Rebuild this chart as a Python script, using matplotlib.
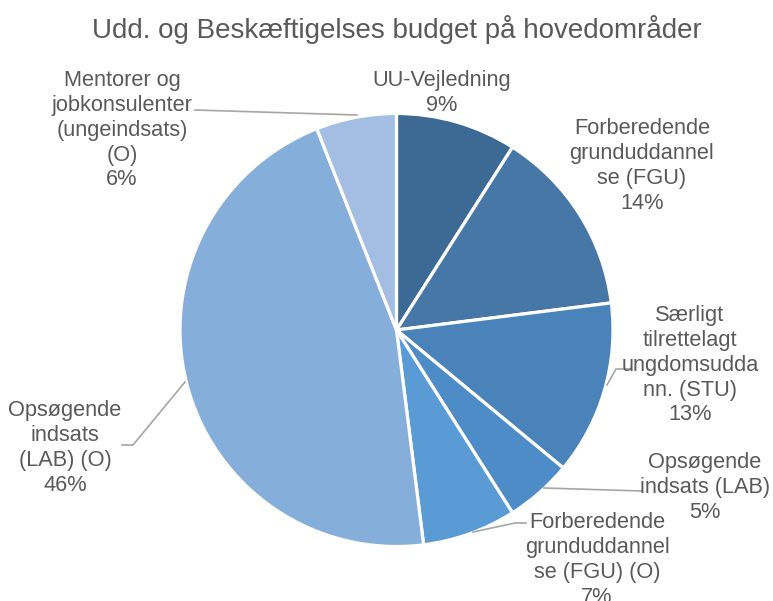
import matplotlib
matplotlib.use("Agg")
import matplotlib.pyplot as plt

# data
labels = [
    "UU-Vejledning",
    "Forberedende\ngrunduddannel\nse (FGU)",
    "Særligt\ntilrettelagt\nungdomsudda\nnn. (STU)",
    "Opsøgende\nindsats (LAB)",
    "Forberedende\ngrunduddannel\nse (FGU) (O)",
    "Opsøgende\nindsats\n(LAB) (O)",
    "Mentorer og\njobkonsulenter\n(ungeindsats)\n(O)",
]
values = [9, 14, 13, 5, 7, 46, 6]
colors = ["#3D6A95", "#4677A6", "#4A83B9", "#4D8CC6", "#5A9BD6", "#85AEDB", "#A3BEE2"]

# label anchor (centre x, top y) in pixel coords, top-left origin
label_pos = [(442, 70), (642, 118), (690, 305), (705, 452), (597, 512), (65, 400), (122, 70)]

# leader lines (pixel coords)
leaders = [
    None, None,
    [(607, 385), (616, 369), (630, 369)],
    [(544, 488), (642, 491)],
    [(473, 532), (515, 523), (526, 523)],
    [(122, 445), (133, 445), (185, 382)],
    [(195, 110), (357, 115)],
]

plt.rcParams["font.family"] = ["Liberation Sans", "DejaVu Sans"]
W, H = 773, 601
fig = plt.figure(figsize=(W / 100, H / 100), dpi=100)
ax = fig.add_axes([0, 0, 1, 1])

ax.pie(values, colors=colors, startangle=90, counterclock=False,
       center=(396.5, H - 330), radius=216.5, frame=True,
       wedgeprops=dict(edgecolor="white", linewidth=2.3))
ax.set_xlim(0, W)
ax.set_ylim(0, H)
ax.set_aspect("equal")
ax.axis("off")

txt_color = "#595959"
for lab, v, (x, y), ld in zip(labels, values, label_pos, leaders):
    ax.text(x, H - y, f"{lab}\n{v}%", ha="center", va="top", fontsize=15.7,
            color=txt_color, linespacing=1.24)
    if ld:
        xs = [p[0] for p in ld]
        ys = [H - p[1] for p in ld]
        ax.plot(xs, ys, color="#A6A6A6", lw=1.2)

ax.text(397, H - 30, "Udd. og Beskæftigelses budget på hovedområder",
        ha="center", va="center", fontsize=20, color=txt_color)

fig.savefig("out.png", dpi=100)
